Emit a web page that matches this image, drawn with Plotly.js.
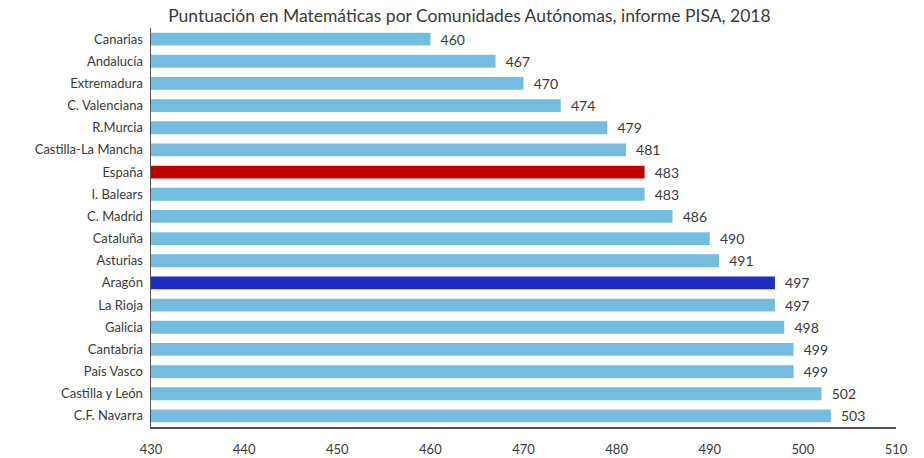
<!DOCTYPE html>
<html>
<head>
<meta charset="utf-8">
<script src="https://cdn.plot.ly/plotly-3.0.1.min.js"></script>
<style>html,body{margin:0;padding:0;background:#fff;}#chart{width:924px;height:458px;}</style>
</head>
<body>
<div id="chart"></div>
<script>
const categories = ["Canarias","Andalucía","Extremadura","C. Valenciana","R.Murcia","Castilla-La Mancha","España","I. Balears","C. Madrid","Cataluña","Asturias","Aragón","La Rioja","Galicia","Cantabria","País Vasco","Castilla y León","C.F. Navarra"];
const scores = [460,467,470,474,479,481,483,483,486,490,491,497,497,498,499,499,502,503];
const tickValues = [430,440,450,460,470,480,490,500,510];

const colors = categories.map(c => c === "España" ? "#C00000" : (c === "Aragón" ? "#1C2DC0" : "#74BDE0"));

const trace = {
  type: "bar",
  orientation: "h",
  y: categories,
  x: scores,
  marker: {color: colors},
  width: 0.58,
  text: scores.map(String),
  texttemplate: "\u00a0\u00a0%{text}",
  textposition: "outside",
  cliponaxis: false,
  constraintext: "none",
  textfont: {family: "Lato, sans-serif", size: 14, color: "#3a3a3a"},
  hoverinfo: "none"
};

const layout = {
  width: 924, height: 458,
  margin: {l: 151, r: 28, t: 28, b: 31},
  paper_bgcolor: "#fff", plot_bgcolor: "#fff",
  showlegend: false,
  title: {text: "Puntuación en Matemáticas por Comunidades Autónomas, informe PISA, 2018",
          font: {family: "Lato, sans-serif", size: 17.5, color: "#3a3a3a"},
          x: 0.508, xanchor: "center", y: 0.965, yanchor: "middle"},
  xaxis: {
    range: [430, 510],
    tickvals: tickValues,
    ticktext: tickValues.map(String),
    showgrid: false, zeroline: false,
    showline: true, linecolor: "#555", linewidth: 1.5,
    ticks: "", ticklabelstandoff: 10,
    tickfont: {family: "Lato, sans-serif", size: 13, color: "#3a3a3a"}
  },
  yaxis: {
    type: "category",
    autorange: "reversed",
    showgrid: false, zeroline: false,
    showline: true, linecolor: "#555", linewidth: 1.5,
    ticks: "", ticklabelstandoff: 4,
    tickfont: {family: "Lato, sans-serif", size: 13, color: "#3a3a3a"}
  },
  bargap: 0.42
};

Plotly.newPlot("chart", [trace], layout, {displayModeBar: false, staticPlot: true});
</script>
</body>
</html>
